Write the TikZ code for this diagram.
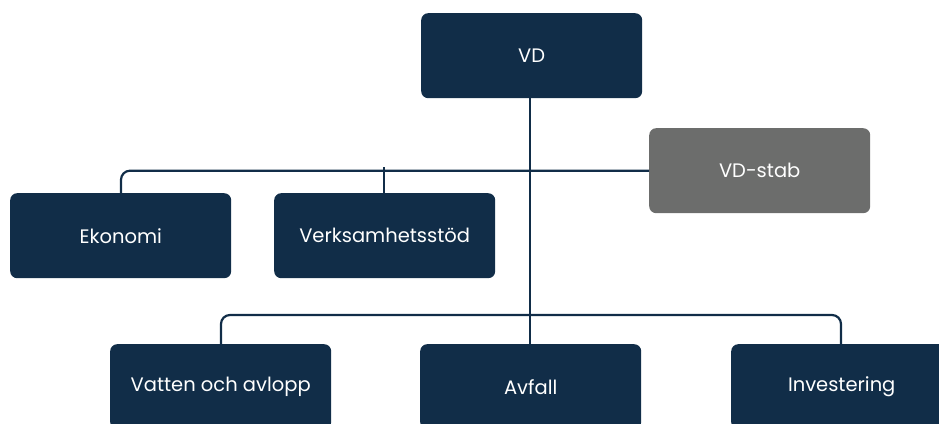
\documentclass[tikz,border=0pt]{standalone}
\usepackage{fontspec}
\setmainfont{Poppins}
\definecolor{navy}{HTML}{112D48}
\definecolor{stabgray}{HTML}{6C6D6C}
\begin{document}
\begin{tikzpicture}[x=1pt,y=-1pt,
  unit/.style={fill=navy,rounded corners=7pt,minimum width=221pt,minimum height=85pt,
    inner sep=0pt,text=white,font=\fontsize{19.5}{23}\selectfont,anchor=north west},
  stab/.style={unit,fill=stabgray},
  conn/.style={draw=navy,line width=2.2pt,rounded corners=9pt}]
\useasboundingbox (0,0) rectangle (939,423);
\begin{scope}
\clip (0,0) rectangle (939,423);
\node[unit] (vd) at (421,13) {VD};
\node[stab] (stab) at (649,128) {VD-stab};
\node[unit] (eko) at (10,193) {Ekonomi};
\node[unit] (verk) at (274,193) {Verksamhetsstöd};
\node[unit] (vatten) at (110,344) {Vatten och avlopp};
\node[unit] (avfall) at (420,344) {Avfall};
\node[unit] (inv) at (731,344) {Investering};
\coordinate (j1) at (530,167);
\coordinate (j2) at (530,315);
\draw[conn] (vd.south -| j1) -- (avfall.north -| j1);
\draw[conn] (eko.north -| 121,0) |- (stab.west);
\draw[conn] (verk.north -| 384,0) -- (384,167);
\draw[conn] (vatten.north -| 221,0) |- (j2) -| (inv.north -| 841,0);
\end{scope}
\end{tikzpicture}
\end{document}
